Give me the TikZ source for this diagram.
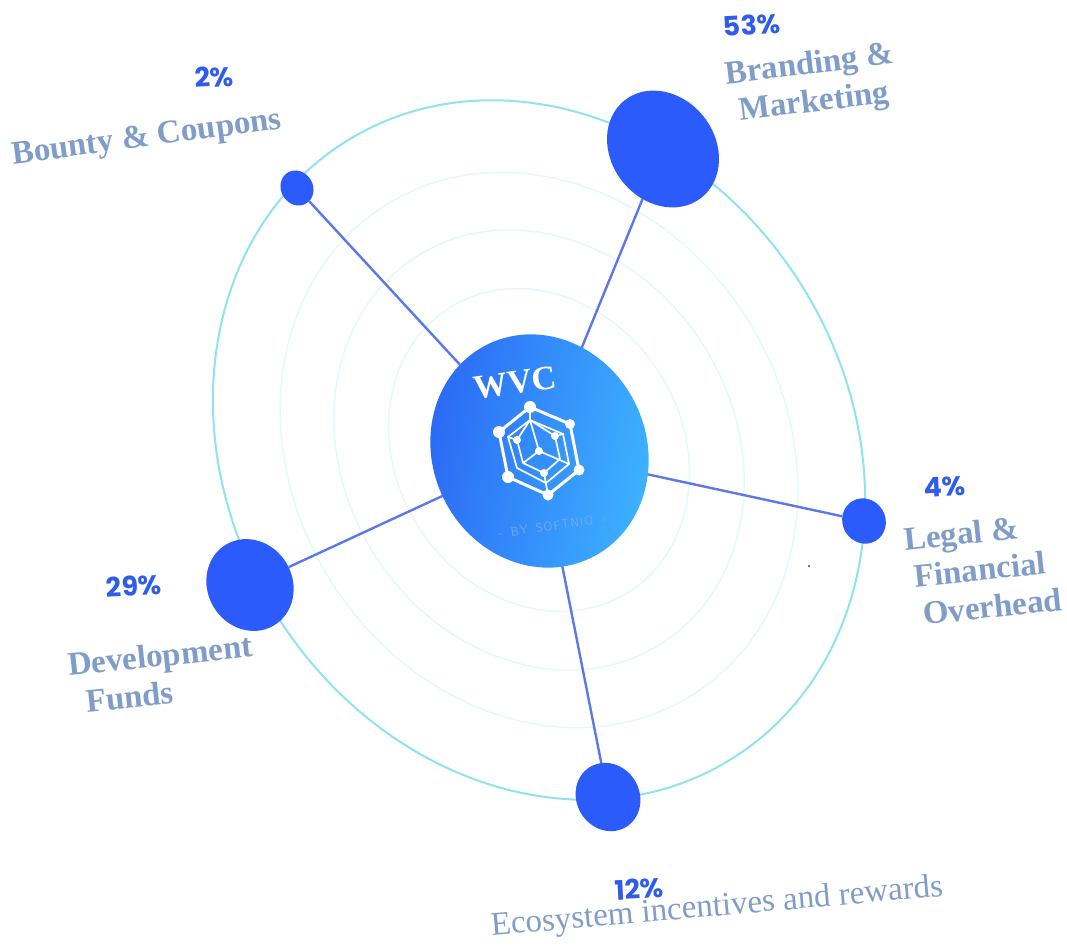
\documentclass[tikz,border=0pt]{standalone}
\usepackage{fontspec}
\setmainfont{Liberation Serif}
\newfontfamily\pctfont{Poppins}
\usetikzlibrary{shapes.geometric,backgrounds}
\definecolor{dotblue}{HTML}{2B5CFB}
\definecolor{linkblue}{HTML}{5C78E6}
\definecolor{ringcyan}{HTML}{8FE3EF}
\definecolor{ringpale}{HTML}{E6F8FA}
\definecolor{labelblue}{HTML}{7F9DC8}
\definecolor{pctblue}{HTML}{2F5CEB}
\definecolor{hubleft}{HTML}{2A66F5}
\definecolor{hubright}{HTML}{3EB6FF}
\definecolor{bytext}{HTML}{74A6F8}
\tikzset{
 dot/.style={ellipse,fill=dotblue,inner sep=0pt},
 link/.style={draw=linkblue,line width=2.4pt},
 outerring/.style={draw=ringcyan,line width=2pt},
 innerring/.style={draw=ringpale,line width=1.5pt},
 lab/.style={font=\bfseries\fontsize{33}{38}\selectfont,text=labelblue,inner sep=0pt},
 pct/.style={font=\pctfont\bfseries\fontsize{27}{30}\selectfont,text=pctblue,inner sep=0pt,rotate=3},
 logoline/.style={draw=white,line width=1.7pt},
 logoedge/.style={draw=white,line width=3pt,line join=round},
 logodot/.style={circle,fill=white,inner sep=0pt}
}
\begin{document}
\begin{tikzpicture}[x=1pt,y=-1pt]
\useasboundingbox (0,0) rectangle (1067,951);
% hub
\coordinate (hub) at (539.5,451);
\shade[left color=hubleft,right color=hubright,shading angle=80]
 (hub) circle [x radius=118.6pt,y radius=107pt,rotate=-65];
% satellites
\node[dot,minimum width=124pt,minimum height=104pt,rotate=-52] (brand) at (663,149) {};
\node[dot,minimum width=36pt,minimum height=32pt,rotate=-60] (bounty) at (297,188) {};
\node[dot,minimum width=46pt,minimum height=43pt,rotate=-60] (legal) at (864,521) {};
\node[dot,minimum width=70pt,minimum height=63pt,rotate=-60] (eco) at (608,797) {};
\node[dot,minimum width=94pt,minimum height=85pt,rotate=-60] (dev) at (250,585) {};
\begin{scope}[on background layer]
 \begin{scope}[shift={(539,450)},rotate=-58]
  \draw[outerring] (0,0) circle [x radius=364pt,y radius=310pt];
  \draw[innerring] (0,0) circle [x radius=289pt,y radius=246pt];
  \draw[innerring] (0,0) circle [x radius=229pt,y radius=195pt];
  \draw[innerring] (0,0) circle [x radius=168pt,y radius=143pt];
 \end{scope}
 \draw[link] (hub) -- (brand);
 \draw[link] (hub) -- (bounty);
 \draw[link] (hub) -- (legal);
 \draw[link] (hub) -- (eco);
 \draw[link] (hub) -- (dev);
\end{scope}
% logo
\node[font=\bfseries\fontsize{34}{40}\selectfont,text=white,rotate=8,inner sep=0pt] (wvc) at (515,383) {WVC};
\coordinate (o1) at (530,407);\coordinate (o2) at (570,424);\coordinate (o3) at (579,470);
\coordinate (o4) at (548,495);\coordinate (o5) at (508,477);\coordinate (o6) at (499,432);
\coordinate (i1) at (530,420);\coordinate (i2) at (563,434);\coordinate (i3) at (569,464);
\coordinate (i4) at (546,483);\coordinate (i5) at (517,468);\coordinate (i6) at (508,437);
\coordinate (c1) at (517,440);\coordinate (c2) at (555,436);\coordinate (c3) at (539,451);\coordinate (c4) at (544,473);
\coordinate (b) at (523,463);\coordinate (d) at (560,459);
\draw[logoedge] (o1)--(o2)--(o3)--(o4)--(o5)--(o6)--cycle;
\draw[logoline] (i1)--(i2)--(i3)--(i4)--(i5)--(i6)--cycle;
\draw[logoline] (o1)--(i1)--(c3) (c3)--(i3) (c3)--(b) (c1)--(i6) (c1)--(i1) (c2)--(i1) (c2)--(i2) (c1)--(b) (b)--(c4) (c4)--(d) (d)--(c2) (c4)--(o4);
\foreach \n/\r in {o1/6,o2/5,o3/5.5,o4/5.5,o5/6,o6/6,c1/4,c2/4,c3/4,c4/4}
 \node[logodot,minimum size=2*\r pt] at (\n) {};
\node[font=\sffamily\fontsize{12.5}{14}\selectfont,text=bytext,rotate=8,inner sep=0pt] (by) at (552,526) {-\ \ B\kern1pt Y\ \ S\kern1pt O\kern1pt F\kern1pt T\kern1pt N\kern1pt I\kern1pt O\ \ -};
% labels
\node[pct] (p2) at (214,77) {2\%};
\node[lab,rotate=7.5] (l2) at (147,139) {Bounty \& Coupons};
\node[pct] (p53) at (752,25) {53\%};
\node[lab,rotate=7,align=center] (l53) at (812,85) {Branding \&\\Marketing};
\node[pct] (p4) at (945,487) {4\%};
\node[lab,rotate=6,align=left] (l4) at (983,569) {Legal \&\\\hspace{6pt}Financial\\\hspace{11pt}Overhead};
\node[pct] (p29) at (134,586) {29\%};
\node[lab,rotate=6,align=left] (l29) at (162,674) {Development\\\hspace{14pt}Funds};
\node[pct] (p12) at (639,889) {12\%};
\node[lab,rotate=5,font=\fontsize{33}{36}\selectfont] (l12) at (717,908) {Ecosystem incentives and rewards};
\fill[black!70] (809,566) circle (1.2pt);
\end{tikzpicture}
\end{document}
